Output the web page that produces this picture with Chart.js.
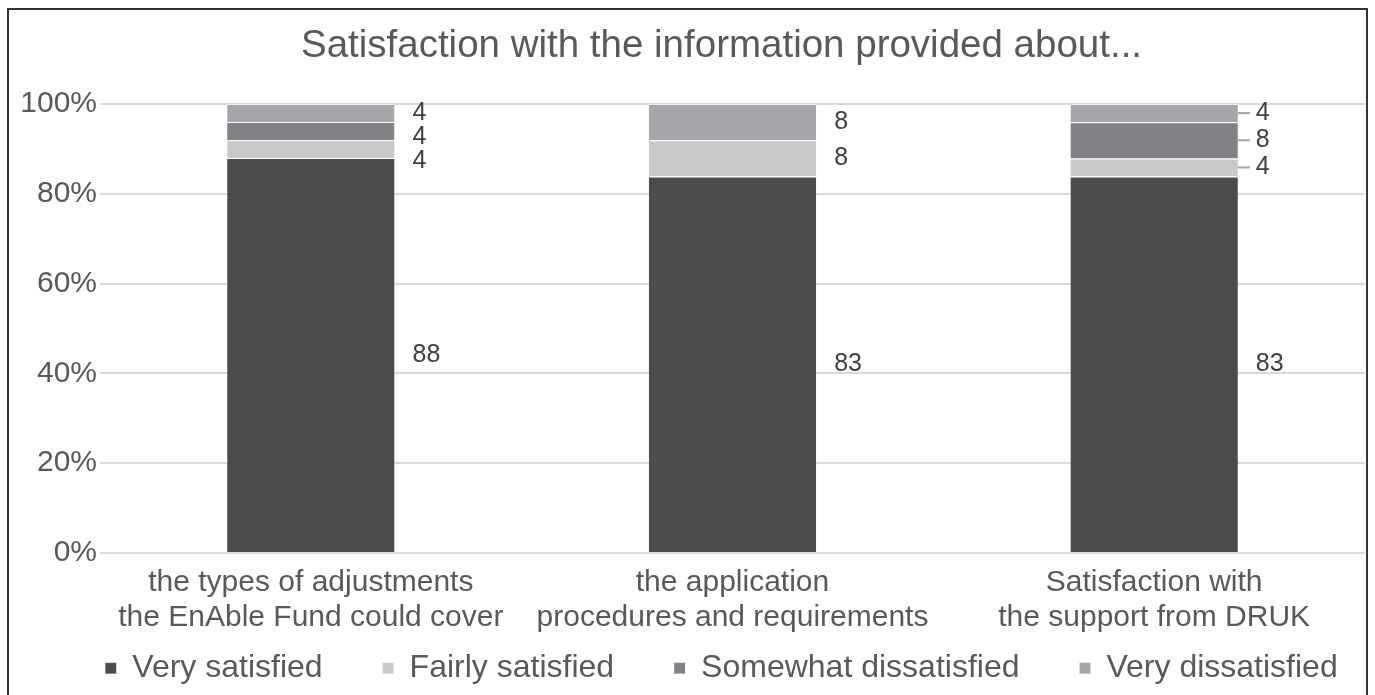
<!DOCTYPE html>
<html>
<head>
<meta charset="utf-8">
<script src="https://cdn.jsdelivr.net/npm/chart.js@4.4.1/dist/chart.umd.min.js"></script>
<style>
  html, body { margin: 0; padding: 0; background: #fff; }
  #wrap { position: relative; width: 1375px; height: 695px; }
  #frame { position: absolute; left: 7px; top: 8px; width: 1357px; height: 700px; border: 2px solid #333; pointer-events: none; }
</style>
</head>
<body>
<div id="wrap">
  <canvas id="chart"></canvas>
  <div id="frame"></div>
</div>
<script>
// categories (two-line labels) and answers per category
const categories = [
  ["the types of adjustments", "the EnAble Fund could cover"],
  ["the application", "procedures and requirements"],
  ["Satisfaction with", "the support from DRUK"]
];
const verySatisfied = [88, 83, 83];
const fairlySatisfied = [4, 8, 4];
const somewhatDissatisfied = [4, 0, 8];
const veryDissatisfied = [4, 8, 4];

const seriesNames = ["Very satisfied", "Fairly satisfied", "Somewhat dissatisfied", "Very dissatisfied"];
const seriesColors = ["#4b4c4e", "#c8c9cb", "#818285", "#a6a7aa"];
const FONT = '"Liberation Sans", Arial, sans-serif';

// 100% stacked : each bar is scaled on its own total
const totals = categories.map((c, i) => verySatisfied[i] + fairlySatisfied[i] + somewhatDissatisfied[i] + veryDissatisfied[i]);
const toPercent = arr => arr.map((v, i) => v / totals[i] * 100);

const series = [verySatisfied, fairlySatisfied, somewhatDissatisfied, veryDissatisfied];

const datasets = series.map((values, k) => ({
  label: seriesNames[k],
  data: toPercent(values),
  raw: values,
  backgroundColor: seriesColors[k],
  borderColor: "rgba(255,255,255,0.55)",
  borderWidth: { top: 1, left: 0, right: 0, bottom: 0 },
  borderSkipped: false,
  categoryPercentage: 1,
  barPercentage: 0.397
}));

// labels written to the right of each segment
const valueLabels = {
  id: "valueLabels",
  afterDatasetsDraw(chart, args, opts) {
    const ctx = chart.ctx;
    ctx.save();
    ctx.font = "25px " + FONT;
    ctx.fillStyle = "#404040";
    ctx.textAlign = "left";
    ctx.textBaseline = "middle";
    categories.forEach((cat, i) => {
      let prevY = -Infinity;
      for (let d = chart.data.datasets.length - 1; d >= 0; d--) {
        const value = chart.data.datasets[d].raw[i];
        if (!value) continue;
        const bar = chart.getDatasetMeta(d).data[i];
        let y = (bar.y + bar.base) / 2;
        y = Math.max(y, prevY + opts.minGap);
        prevY = y;
        const right = bar.x + bar.width / 2;
        if (opts.leaderCategories.includes(i) && Math.abs(bar.base - bar.y) < 60) {
          ctx.strokeStyle = "#a6a6a6";
          ctx.lineWidth = 2;
          ctx.beginPath();
          ctx.moveTo(right, y);
          ctx.lineTo(right + 12, y);
          ctx.stroke();
        }
        ctx.fillText(String(value), right + opts.offset, y);
      }
    });
    ctx.restore();
  }
};

// move title / legend boxes after the layout is done
const nudgeBoxes = {
  id: "nudgeBoxes",
  afterLayout(chart, args, opts) {
    Object.entries(opts.boxes || {}).forEach(([name, d]) => {
      const box = chart[name];
      if (!box) return;
      box.left += d.dx || 0;
      box.right += d.dx || 0;
      box.top += d.dy || 0;
      box.bottom += d.dy || 0;
    });
  }
};

new Chart(document.getElementById("chart"), {
  type: "bar",
  data: { labels: categories, datasets: datasets },
  plugins: [valueLabels, nudgeBoxes],
  options: {
    responsive: true,
    maintainAspectRatio: false,
    animation: false,
    layout: { padding: { left: 12, right: 10, top: 0, bottom: -47.2 } },
    scales: {
      x: {
        stacked: true,
        grid: { display: false },
        border: { display: false },
        ticks: {
          color: "#595959",
          font: { family: FONT, size: 30, lineHeight: 1.17 },
          padding: 4.5,
          maxRotation: 0,
          autoSkip: false
        }
      },
      y: {
        stacked: true,
        min: 0,
        max: 100,
        grid: { color: "#d9d9d9", lineWidth: 2, drawTicks: false },
        border: { display: false },
        ticks: {
          stepSize: 20,
          color: "#595959",
          font: { family: FONT, size: 30 },
          padding: 3,
          callback: v => v + "%"
        },
        afterFit: scale => { scale.width = 88; }
      }
    },
    plugins: {
      title: {
        display: true,
        text: "Satisfaction with the information provided about...",
        color: "#595959",
        font: { family: FONT, size: 38.5, weight: "normal", lineHeight: 1.2 },
        padding: { top: 23, bottom: 34.8 }
      },
      legend: {
        position: "bottom",
        labels: {
          color: "#595959",
          font: { family: FONT, size: 32 },
          boxWidth: 11,
          boxHeight: 11,
          padding: 60
        }
      },
      tooltip: { enabled: false },
      valueLabels: { minGap: 24, offset: 18, leaderCategories: [2] },
      nudgeBoxes: {
        boxes: {
          titleBlock: { dx: 33 },
          legend: { dx: 33, dy: -48 }
        }
      }
    }
  }
});
</script>
</body>
</html>
